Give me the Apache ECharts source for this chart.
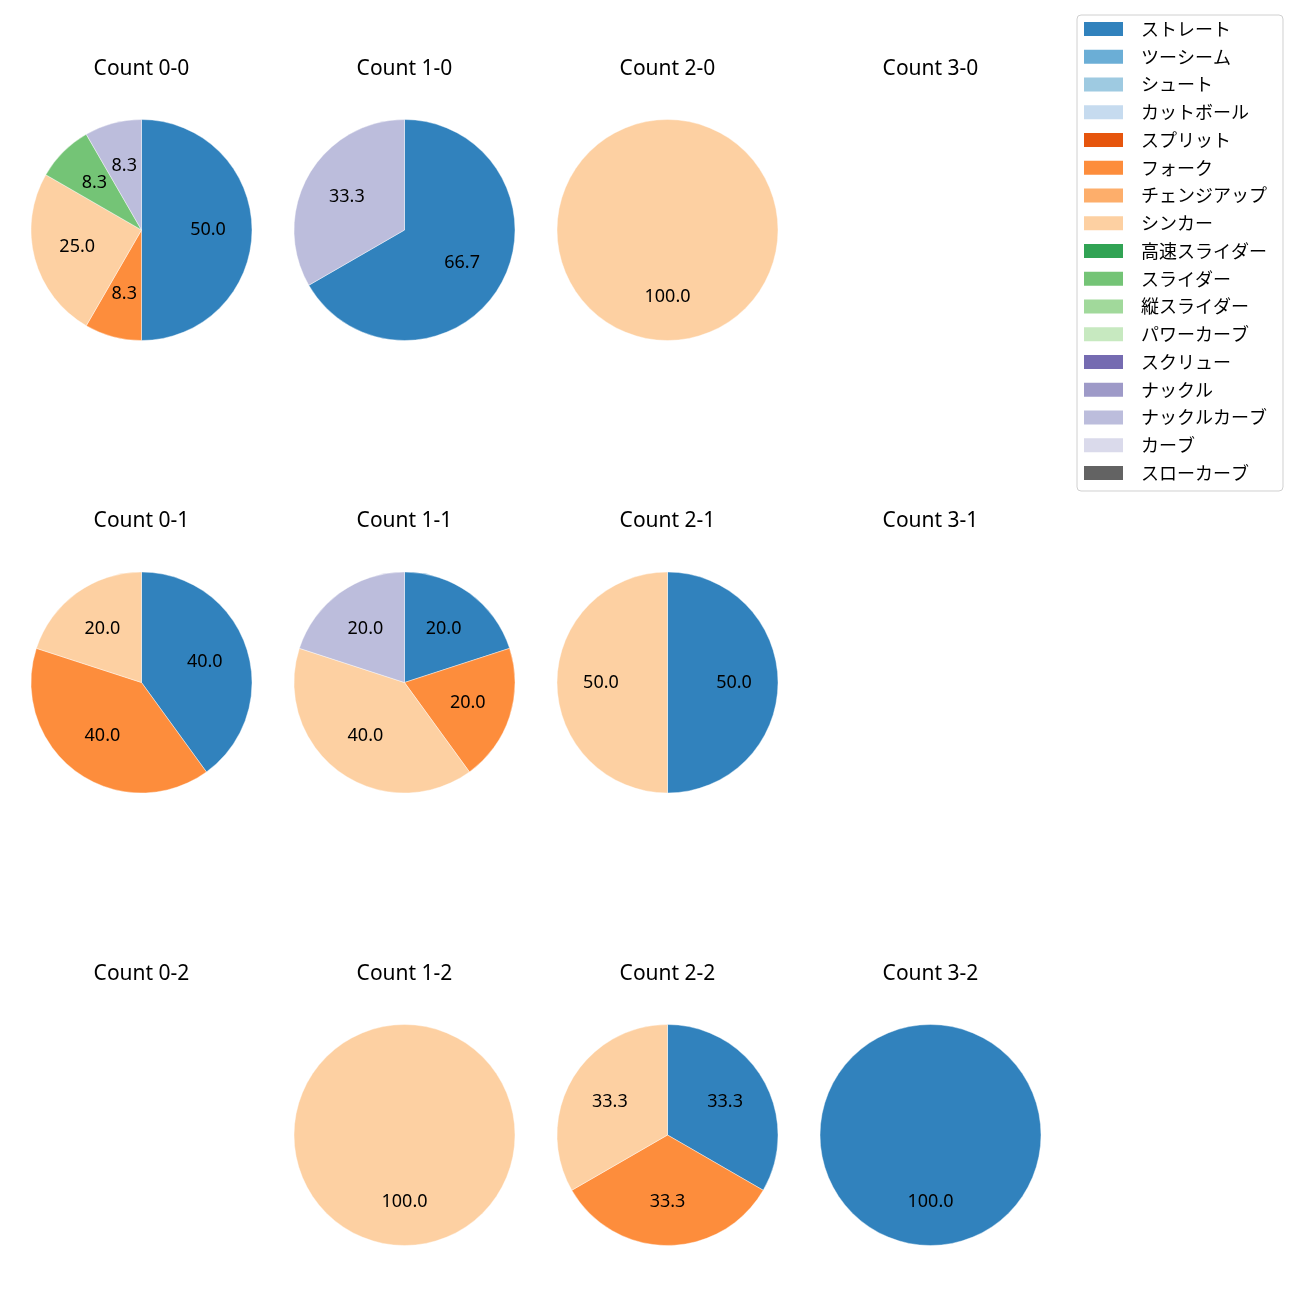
<!DOCTYPE html>
<html>
<head>
<meta charset="utf-8">
<script src="https://cdn.jsdelivr.net/npm/echarts@6/dist/echarts.min.js"></script>
<style>
html,body{margin:0;padding:0;background:#fff;}
#chart{width:1300px;height:1300px;}
</style>
</head>
<body>
<div id="chart"></div>
<script>
// Pitch types (legend order) and their colours
const pitchTypes = ['ストレート','ツーシーム','シュート','カットボール','スプリット','フォーク','チェンジアップ','シンカー','高速スライダー','スライダー','縦スライダー','パワーカーブ','スクリュー','ナックル','ナックルカーブ','カーブ','スローカーブ'];
const pitchColors = ['#3182bd','#6baed6','#9ecae1','#c6dbef','#e6550d','#fd8d3c','#fdae6b','#fdd0a2','#31a354','#74c476','#a1d99b','#c7e9c0','#756bb1','#9e9ac8','#bcbddc','#dadaeb','#636363'];

// Panel titles
const titles = [
  ['Count 0-0','Count 1-0','Count 2-0','Count 3-0'],
  ['Count 0-1','Count 1-1','Count 2-1','Count 3-1'],
  ['Count 0-2','Count 1-2','Count 2-2','Count 3-2']
];

// Pitch counts per panel, in pitchTypes order
const count00 = [6,0,0,0,0,1,0,3,0,1,0,0,0,0,1,0,0];
const count10 = [2,0,0,0,0,0,0,0,0,0,0,0,0,0,1,0,0];
const count20 = [0,0,0,0,0,0,0,1,0,0,0,0,0,0,0,0,0];
const count30 = [0,0,0,0,0,0,0,0,0,0,0,0,0,0,0,0,0];
const count01 = [2,0,0,0,0,2,0,1,0,0,0,0,0,0,0,0,0];
const count11 = [1,0,0,0,0,1,0,2,0,0,0,0,0,0,1,0,0];
const count21 = [1,0,0,0,0,0,0,1,0,0,0,0,0,0,0,0,0];
const count31 = [0,0,0,0,0,0,0,0,0,0,0,0,0,0,0,0,0];
const count02 = [0,0,0,0,0,0,0,0,0,0,0,0,0,0,0,0,0];
const count12 = [0,0,0,0,0,0,0,1,0,0,0,0,0,0,0,0,0];
const count22 = [1,0,0,0,0,1,0,1,0,0,0,0,0,0,0,0,0];
const count32 = [1,0,0,0,0,0,0,0,0,0,0,0,0,0,0,0,0];

const panels = [
  [count00, count10, count20, count30],
  [count01, count11, count21, count31],
  [count02, count12, count22, count32]
];

const FONT = '"Noto Sans", "Noto Sans CJK JP", sans-serif';
const LFONT = '"Noto Sans CJK JP", "Noto Sans", sans-serif';
const colX = [141.5, 404.5, 667.5, 930.5];
const rowY = [230, 682.5, 1135];
const R = 110.5;

const series = [];
const titleList = [];

// hidden series providing legend entries
series.push({
  type: 'pie', silent: true, center: [-2000, -2000], radius: 1,
  label: {show: false}, labelLine: {show: false},
  data: pitchTypes.map((n, i) => ({name: n, value: 1, itemStyle: {color: pitchColors[i]}}))
});

for (let r = 0; r < 3; r++) {
  for (let c = 0; c < 4; c++) {
    titleList.push({
      text: titles[r][c], left: colX[c], top: rowY[r] - 172, textAlign: 'center', padding: 0,
      textStyle: {fontFamily: FONT, fontSize: 21, fontWeight: 'normal', color: '#000', lineHeight: 22}
    });
    const vals = panels[r][c];
    const data = [];
    vals.forEach((v, i) => {
      if (v > 0) data.push({name: pitchTypes[i], value: v, itemStyle: {color: pitchColors[i]}});
    });
    if (!data.length) continue;
    series.push({
      type: 'pie', center: [colX[c], rowY[r]], radius: [0, R],
      startAngle: 90, clockwise: true, animation: false,
      label: {show: false}, labelLine: {show: false},
      itemStyle: {borderColor: '#fff', borderWidth: 0.4},
      emphasis: {disabled: true},
      data: data
    });
    series.push({
      type: 'pie', center: [colX[c], rowY[r]], radius: [R * 0.15, R],
      startAngle: 90, clockwise: true, animation: false, silent: true,
      itemStyle: {color: 'rgba(0,0,0,0)'},
      label: {
        show: true, position: 'inside', color: '#000', fontFamily: FONT, fontSize: 18,
        formatter: p => p.percent.toFixed(1)
      },
      labelLine: {show: false},
      emphasis: {disabled: true},
      data: data.map(d => ({name: d.name, value: d.value}))
    });
  }
}

const chart = echarts.init(document.getElementById('chart'), null, {renderer: 'canvas'});
chart.setOption({
  animation: false,
  title: titleList,
  legend: {
    orient: 'vertical', left: 1077, top: 15,
    data: pitchTypes,
    itemWidth: 39, itemHeight: 14, itemGap: 9.75,
    padding: [5, 16, 9, 7],
    borderColor: '#d0d0d0', borderWidth: 1, borderRadius: 4,
    icon: 'rect',
    selectedMode: false,
    textStyle: {fontFamily: LFONT, fontSize: 18, color: '#000', padding: [0, 0, 0, 13]}
  },
  series: series
});
</script>
</body>
</html>
